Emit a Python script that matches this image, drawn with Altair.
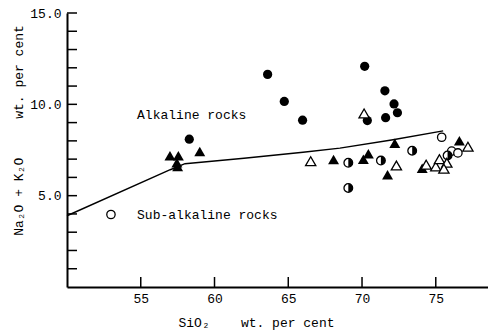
import altair as alt
import pandas as pd

# ---- data ----
line_x = [50.0, 57.0, 58.0, 62.0, 66.0, 68.5, 72.0, 75.5]
line_y = [3.9, 6.42, 6.75, 7.05, 7.38, 7.6, 8.05, 8.55]

fc_x = [63.6, 64.73, 65.97, 58.29, 70.18, 71.55, 72.17, 72.4, 70.36, 71.6]
fc_y = [11.64, 10.16, 9.13, 8.09, 12.08, 10.74, 10.02, 9.54, 9.11, 9.27]

oc_x = [52.98, 75.4, 76.08, 76.5]
oc_y = [3.97, 8.2, 7.44, 7.34]

hc_x = [69.07, 69.07, 71.28, 73.4, 75.8]
hc_y = [6.8, 5.42, 6.92, 7.46, 7.2]

ft_x = [56.98, 57.55, 57.45, 57.5, 59.0, 68.07, 70.43, 70.09, 71.73, 72.22, 74.08, 76.6]
ft_y = [7.18, 7.18, 6.8, 6.6, 7.42, 6.98, 7.3, 7.0, 6.15, 7.87, 6.5, 8.0]

ot_x = [66.52, 70.14, 72.33, 74.35, 75.0, 75.25, 75.75, 75.55, 77.18]
ot_y = [6.89, 9.5, 6.65, 6.7, 6.6, 7.0, 6.8, 6.48, 7.68]

label_text = ["Alkaline rocks", "Sub-alkaline rocks"]
label_x = [54.75, 54.75]
label_y = [9.4, 3.93]

x_ticks = [55, 60, 65, 70, 75]
y_ticks = list(range(1, 16))
y_labels = [5, 10, 15]

NB = "\u00a0"
x_title = "SiO\u2082" + NB * 4 + "wt." + NB + "per" + NB + "cent"
y_title = "Na\u2082O" + NB + "+" + NB + "K\u2082O" + NB * 5 + "wt." + NB + "per" + NB + "cent"

FONT = "Liberation Mono"
W, H = 421, 274

xs = alt.Scale(domain=[50, 78.54], nice=False, zero=False)
ys = alt.Scale(domain=[0, 15], nice=False, zero=False)

x_axis = alt.Axis(
    values=x_ticks, format="d", ticks=False, tickSize=0, grid=False,
    labelFont=FONT, labelFontSize=13, labelColor="black", labelPadding=5,
    domainColor="black", domainWidth=2,
    title=x_title, titleFont=FONT, titleFontSize=13, titleFontWeight="normal",
    titleColor="black", titleX=189, titleY=35, titleAlign="center",
    titleBaseline="middle")
y_axis = alt.Axis(
    values=y_labels, format=".1f", ticks=False, tickSize=0, grid=False,
    labelFont=FONT, labelFontSize=13, labelColor="black", labelPadding=6,
    domainColor="black", domainWidth=2,
    title=y_title, titleFont=FONT, titleFontSize=13, titleFontWeight="normal",
    titleColor="black", titleX=-49, titleY=117, titleAlign="center",
    titleBaseline="middle", titleAngle=270)

X = alt.X("x:Q", scale=xs, axis=x_axis)
Y = alt.Y("y:Q", scale=ys, axis=y_axis)


def df(xv, yv):
    return pd.DataFrame({"x": xv, "y": yv})


line = alt.Chart(df(line_x, line_y)).mark_line(
    color="black", strokeWidth=1.4).encode(x=X, y=Y)

ytick_layer = alt.Chart(pd.DataFrame({"y": y_ticks})).mark_rule(
    color="black", strokeWidth=1.5).encode(y=Y, x=alt.value(0), x2=alt.value(10))

xtick_layer = alt.Chart(pd.DataFrame({"x": x_ticks})).mark_rule(
    color="black", strokeWidth=1.5).encode(x=X, y=alt.value(H), y2=alt.value(H - 10))

filled_c = alt.Chart(df(fc_x, fc_y)).mark_point(
    shape="circle", filled=True, color="black", size=85, opacity=1).encode(x=X, y=Y)

open_c = alt.Chart(df(oc_x, oc_y)).mark_point(
    shape="circle", fill="white", fillOpacity=1, stroke="black",
    strokeWidth=1.3, size=70, opacity=1).encode(x=X, y=Y)

half_outline = alt.Chart(df(hc_x, hc_y)).mark_point(
    shape="circle", fill="white", fillOpacity=1, stroke="black",
    strokeWidth=1.3, size=75, opacity=1).encode(x=X, y=Y)

half_fill = alt.Chart(df(hc_x, hc_y)).mark_point(
    shape="M0,-1A1,1,0,0,1,0,1Z", filled=True, color="black",
    size=75, opacity=1, strokeWidth=0).encode(x=X, y=Y)

filled_t = alt.Chart(df(ft_x, ft_y)).mark_point(
    shape="triangle-up", filled=True, color="black", size=120, opacity=1).encode(x=X, y=Y)

open_t = alt.Chart(df(ot_x, ot_y)).mark_point(
    shape="triangle-up", fill="white", fillOpacity=1, stroke="black",
    strokeWidth=1.3, size=105, opacity=1).encode(x=X, y=Y)

labels = alt.Chart(pd.DataFrame({"x": label_x, "y": label_y, "t": label_text})).mark_text(
    align="left", baseline="middle", font=FONT, fontSize=13, color="black").encode(
    x=X, y=Y, text="t:N")

chart = alt.layer(
    line, ytick_layer, xtick_layer, filled_c, open_c, half_outline, half_fill,
    filled_t, open_t, labels
).properties(
    width=W, height=H,
    padding={"left": 59, "top": 5, "right": 0, "bottom": 45},
    autosize=alt.AutoSizeParams(type="none"),
    background="white",
).configure_view(stroke=None)

chart.save("out.html", embed_options={"renderer": "svg", "actions": False})
